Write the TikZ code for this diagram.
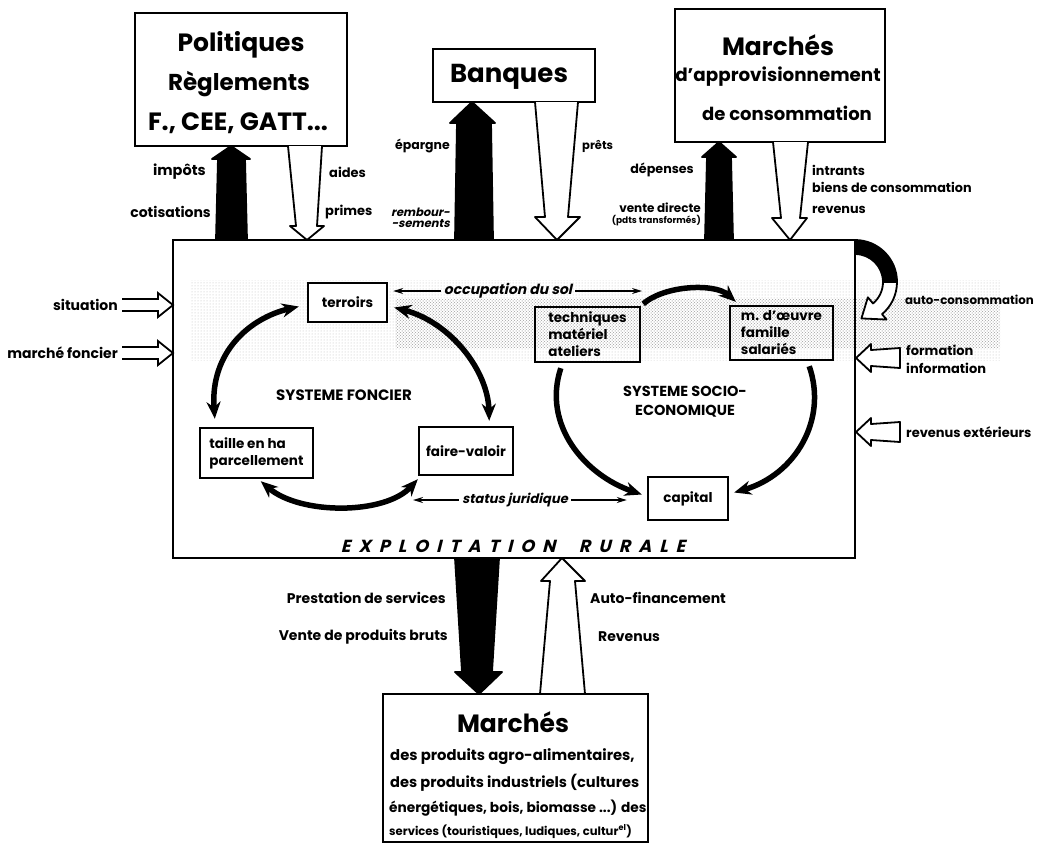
\documentclass[tikz,border=0pt]{standalone}
\usepackage{fontspec}
\setmainfont{Poppins}
\newfontfamily\slfont{Poppins}[FakeSlant=0.22]
\newfontfamily\explfont{Poppins}[FakeSlant=0.25,LetterSpace=46]
\usetikzlibrary{arrows.meta,patterns,calc}
\newcommand\fsz[2]{\fontsize{#1}{#2}\selectfont\bfseries}
\begin{document}
\begin{tikzpicture}[x=1pt,y=-1pt,
  box/.style={draw, line width=2.4pt, inner sep=0pt, align=center},
  title/.style={font=\fsz{25}{30}, inner sep=0pt},
  subtitle/.style={font=\fsz{18.3}{22}, inner sep=0pt},
  lab/.style={font=\fsz{13}{15}, inner sep=0pt},
  inlab/.style={font=\fsz{13.5}{17}, inner sep=0pt},
  fat/.style={line width=1.8pt, line join=round},
  blackarrow/.style={fat, fill=black},
  whitearrow/.style={fat, fill=white},
  cyc/.style={line width=5.5pt, {Stealth[length=17pt,width=14pt]}-{Stealth[length=17pt,width=14pt]}},
  cycone/.style={line width=5.5pt, -{Stealth[length=17pt,width=14pt]}},
  thinarrow/.style={line width=1.5pt, -{Stealth[length=10pt,width=6pt]}},
  mline/.style={anchor=base west, inner sep=0pt},
]
\useasboundingbox (0,0) rectangle (1046,844);

% halftone band
\fill[pattern=dots, pattern color=gray!55] (190,280) rectangle (1000,360);
\fill[pattern=crosshatch dots, pattern color=gray!75] (395,299) rectangle (1000,347);

% ---------- top boxes ----------
\node[box, fill=white, minimum width=212pt, minimum height=133pt] (pol) at (241,79.5) {};
\node[title] (pol1) at (241,45) {Politiques};
\node[title, font=\fsz{23}{30}] (pol2) at (239,84) {Règlements};
\node[title] (pol3) at (238,123) {F., CEE, GATT...};

\node[box, fill=white, minimum width=162pt, minimum height=53pt] (banq) at (514,75.5) {};
\node[title, font=\fsz{26}{30}] (banqt) at (509,77) {Banques};

\node[box, fill=white, minimum width=210pt, minimum height=133pt] (mapp) at (780,75.5) {};
\node[title] (mapp1) at (778,45) {Marchés};
\node[subtitle] (mapp2) at (778,77) {d'approvisionnement};
\node[subtitle, font=\fsz{18}{22}] (mapp3) at (787,113) {de consommation};

% ---------- fat arrows, top ----------
\draw[blackarrow] (216,240) -- (218,159) -- (212,159) -- (231,146) -- (250,159) -- (245,159) -- (247,240) -- cycle;
\draw[whitearrow] (288,146) -- (296,226) -- (290,226) -- (307,240) -- (324,226) -- (317,226) -- (322,146);
\draw[blackarrow] (455,240) -- (457,123) -- (450,123) -- (472,102) -- (495,123) -- (491,123) -- (493,240) -- cycle;
\draw[whitearrow] (535,102) -- (545,217) -- (535,217) -- (557,240) -- (580,217) -- (568,217) -- (578,102);
\draw[blackarrow] (705,240) -- (707,157) -- (702,157) -- (719,142) -- (736,157) -- (731,157) -- (733,240) -- cycle;
\draw[whitearrow] (773,142) -- (781,218) -- (772,218) -- (790,240) -- (807,218) -- (800,218) -- (808,142);

% ---------- fat arrows, bottom ----------
\draw[blackarrow] (455,558) -- (462,672) -- (455,672) -- (479,694) -- (502,672) -- (492,672) -- (499,558) -- cycle;
\draw[whitearrow] (540,694) -- (550,581) -- (541,581) -- (562,558) -- (585,581) -- (575,581) -- (585,694);

% ---------- main box ----------
\node[box, minimum width=682pt, minimum height=318pt] (main) at (514,399) {};
\node[font=\explfont\fontsize{17.5}{19}\selectfont\bfseries, inner sep=0pt] (expl) at (513,546) {EXPLOITATION\hspace{12pt} RURALE};

% auto-consommation loop
\coordinate (ac) at (855,282);
\draw[fat, fill=black] ($(ac)+(-90:42)$) arc[start angle=-90, end angle=0, radius=42] -- ($(ac)+(0:28)$) arc[start angle=0, end angle=-90, radius=28] -- cycle;
\draw[fat, fill=white] ($(ac)+(0:42)$) arc[start angle=0, end angle=50, radius=42] -- ($(ac)+(50:49)$) -- ($(ac)+(80:37)$) -- ($(ac)+(50:20)$) -- ($(ac)+(50:28)$) arc[start angle=50, end angle=0, radius=28] -- cycle;
\node[lab, font=\fsz{11.8}{14}, anchor=west] (auto) at (905,300) {auto-consommation};

% left inputs
\node[lab, font=\fsz{14}{16}, anchor=east] (sit) at (118,305) {situation};
\draw[line width=1.8pt, line join=miter] (122,299) -- (158,299) -- (158,293) -- (173,305) -- (158,317) -- (158,311) -- (122,311);
\node[lab, font=\fsz{14}{16}, anchor=east] (mfon) at (118,353) {marché foncier};
\draw[line width=1.8pt, line join=miter] (122,347) -- (158,347) -- (158,341) -- (173,353) -- (158,365) -- (158,359) -- (122,359);

% right inputs
\draw[whitearrow] (856,358) -- (871,344) -- (871,350) -- (900,348) -- (900,368) -- (871,366) -- (871,372) -- cycle;
\node[lab, anchor=west, align=left, font=\fsz{13}{18}] (form) at (906,359) {formation\\information};
\draw[whitearrow] (856,432) -- (871,418) -- (871,424) -- (900,422) -- (900,442) -- (871,440) -- (871,446) -- cycle;
\node[lab, anchor=west] (revext) at (906,432) {revenus extérieurs};

% ---------- labels of top arrows ----------
\node[lab, font=\fsz{14.5}{16}, anchor=east] (impots) at (206,172) {impôts};
\node[lab, font=\fsz{14}{16}, anchor=east] (cotis) at (211,212) {cotisations};
\node[lab, anchor=west] (aides) at (329,172) {aides};
\node[lab, anchor=west] (primes) at (325,212) {primes};
\node[lab, font=\fsz{12.5}{14}, anchor=east] (epar) at (450,146) {épargne};
\node[lab, anchor=east, align=right, font=\slfont\fsz{11.5}{10.5}] (remb) at (450,218) {rembour-\\-sements};
\node[lab, font=\fsz{11.5}{14}, anchor=west] (prets) at (582,146) {prêts};
\node[lab, font=\fsz{12.7}{14}, anchor=east] (dep) at (694,170) {dépenses};
\node[lab, anchor=east, align=right, font=\fsz{12}{11}] (vente) at (701,214) {vente directe\\{\fontsize{9}{9}\selectfont (pdts transformés)}};
\node[lab, font=\fsz{12.8}{14}, anchor=west] (intr) at (812,170) {intrants};
\node[lab, font=\fsz{12.8}{14}, anchor=west] (biens) at (812,187) {biens de consommation};
\node[lab, font=\fsz{12.8}{14}, anchor=west] (revtop) at (812,210) {revenus};

% ---------- labels of bottom arrows ----------
\node[lab, font=\fsz{14}{16}, anchor=east] (prest) at (446,598) {Prestation de services};
\node[lab, font=\fsz{14}{16}, anchor=east] (vpb) at (448,637) {Vente de produits bruts};
\node[lab, font=\fsz{14}{16}, anchor=west] (autofin) at (590,598) {Auto-financement};
\node[lab, font=\fsz{14}{16}, anchor=west] (rev) at (598,637) {Revenus};

% ---------- bottom market box ----------
\node[box, fill=white, minimum width=265pt, minimum height=148pt] (mprod) at (515.5,768) {};
\node[title] (mprodt) at (513,722) {Marchés};
\node[mline, font=\fsz{14.8}{16}] (mp1) at (390,760) {des produits agro-alimentaires,};
\node[mline, font=\fsz{14.6}{16}] (mp2) at (390,787) {des produits industriels (cultures};
\node[mline, font=\fsz{13.7}{16}] (mp3) at (389,812) {énergétiques, bois, biomasse ...) des};
\node[mline, font=\fsz{11.6}{16}] (mp4) at (389,835) {services (touristiques, ludiques, cultur\textsuperscript{el})};

% ---------- inner systems ----------
\node[box, fill=white, inlab, minimum width=79pt, minimum height=39pt] (terr) at (347.5,302.5) {terroirs};
\node[box, fill=white, inlab, align=left, minimum width=113pt, minimum height=50pt] (taille) at (256.5,453) {taille en ha\\parcellement};
\node[box, fill=white, inlab, minimum width=94pt, minimum height=48pt] (fv) at (466,451) {faire-valoir};
\node[box, inlab, align=left, minimum width=105pt, minimum height=55pt] (tech) at (587.5,334.5) {techniques\\matériel\\ateliers};
\node[box, inlab, align=left, minimum width=103pt, minimum height=54pt] (mdo) at (781.5,333) {m. d'œuvre\\famille\\salariés};
\node[box, fill=white, inlab, minimum width=80pt, minimum height=43pt] (cap) at (688,498.5) {capital};

\node[font=\fsz{15}{19}, inner sep=0pt] (sf) at (344,395) {SYSTEME FONCIER};
\node[font=\fsz{14.5}{19}, inner sep=0pt, align=center] (sse) at (685,402) {SYSTEME SOCIO-\\ECONOMIQUE};

\draw[cyc] ($(terr.west)+(-8,4)$) .. controls (250,318) and (210,352) .. ($(taille.north west)+(16,-8)$);
\draw[cyc] ($(taille.south west)+(62,2)$) .. controls (300,515) and (385,515) .. ($(fv.south west)+(0,3)$);
\draw[cyc] ($(terr.east)+(6,5)$) .. controls (450,322) and (488,370) .. ($(fv.north east)+(-25,-5)$);
\draw[cycone] ($(tech.south west)+(27,5)$) .. controls (542,425) and (585,475) .. ($(cap.west)+(-5,-4)$);
\draw[cycone] ($(mdo.south east)+(-25,5)$) .. controls (828,420) and (795,475) .. ($(cap.east)+(5,-6)$);
\draw[cycone] ($(tech.north east)+(2,-2)$) .. controls (665,285) and (715,283) .. ($(mdo.north west)+(7,-3)$);

% occupation du sol / status juridique
\node[font=\slfont\fsz{14}{16}, inner sep=3pt] (occ) at (508,291) {occupation du sol};
\coordinate (occR) at (642,291);
\draw[thinarrow] (occ.west) -- ($(terr.east |- occ.west)+(5,0)$);
\draw[thinarrow] (occ.east) -- (occR);
\node[font=\slfont\fsz{13}{15}, inner sep=3pt] (stat) at (515,500) {status juridique};
\coordinate (statL) at (413,500);
\draw[thinarrow] (stat.west) -- (statL);
\draw[thinarrow] (stat.east) -- ($(cap.west |- stat.east)+(-20,0)$);
\end{tikzpicture}
\end{document}
